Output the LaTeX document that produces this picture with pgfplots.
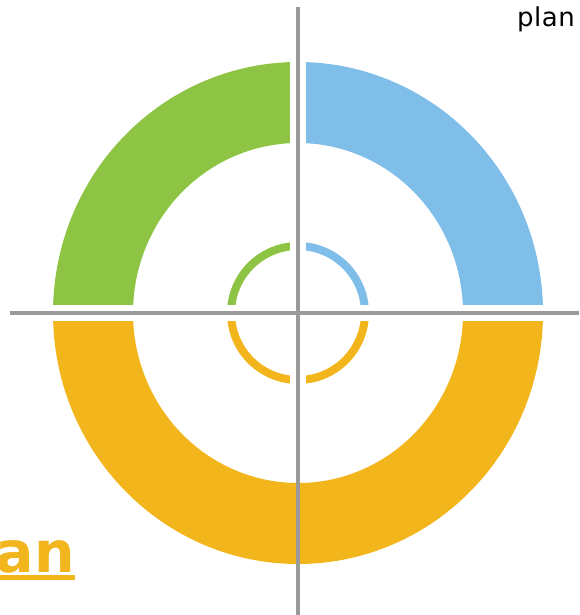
\documentclass[border=0pt]{standalone}
\usepackage{pgfplots}
\pgfplotsset{compat=1.18}
\usepackage{pgfplotstable}
\usepackage{fontspec}
\setmainfont{DejaVu Sans}
\definecolor{cgreen}{HTML}{8DC443}
\definecolor{cblue}{HTML}{7FBEE9}
\definecolor{corange}{HTML}{F2B51C}
\definecolor{cgray}{HTML}{9A9A9A}

% ring segments: share of the full circle (percent, counter-clockwise from 3 o'clock)
\pgfplotstableread{
from to rin rinv rout routv col
0  25  165 170 245 251 cblue
25 50  165 170 245 251 cgreen
50 100 165 170 245 251 corange
0  25  63  63  71  71  cblue
25 50  63  63  71  71  cgreen
50 75  63  63  71  71  corange
75 100 63  63  71  71  corange
}\rings

\begin{document}
\begin{tikzpicture}
\begin{axis}[name=ax, at={(0,0)}, anchor=south west,
  width=579pt, height=615pt, scale only axis,
  xmin=-298, xmax=281, ymin=-302, ymax=313,
  hide axis, clip=false]
\pgfplotsextra{%
  \pgfplotstablegetrowsof{\rings}%
  \pgfmathtruncatemacro\N{\pgfplotsretval-1}%
  \foreach \i in {0,...,\N}{%
    \pgfplotstablegetelem{\i}{from}\of\rings \pgfmathsetmacro\sa{3.6*\pgfplotsretval}%
    \pgfplotstablegetelem{\i}{to}\of\rings \pgfmathsetmacro\sb{3.6*\pgfplotsretval}%
    \pgfplotstablegetelem{\i}{rin}\of\rings \edef\rix{\pgfplotsretval}%
    \pgfplotstablegetelem{\i}{rinv}\of\rings \edef\riy{\pgfplotsretval}%
    \pgfplotstablegetelem{\i}{rout}\of\rings \edef\rox{\pgfplotsretval}%
    \pgfplotstablegetelem{\i}{routv}\of\rings \edef\roy{\pgfplotsretval}%
    \pgfplotstablegetelem{\i}{col}\of\rings \edef\cc{\pgfplotsretval}%
    \pgfmathsetmacro\dx{\rix-\rox}%
    \pgfmathsetmacro\dy{\riy-\roy}%
    \fill[\cc] (axis cs:0,0) ++(\sa:\rox pt and \roy pt)
      arc[start angle=\sa, end angle=\sb, x radius=\rox pt, y radius=\roy pt]
      -- ++(\sb:\dx pt and \dy pt)
      arc[start angle=\sb, end angle=\sa, x radius=\rix pt, y radius=\riy pt]
      -- cycle;
  }%
  \foreach \i in {0,...,\N}{%
    \pgfplotstablegetelem{\i}{from}\of\rings \pgfmathsetmacro\sa{3.6*\pgfplotsretval}%
    \pgfplotstablegetelem{\i}{rout}\of\rings \pgfmathsetmacro\ex{\pgfplotsretval+8}%
    \pgfplotstablegetelem{\i}{routv}\of\rings \pgfmathsetmacro\ey{\pgfplotsretval+8}%
    \draw[white, line width=16pt] (axis cs:0,0) -- ++(\sa:\ex pt and \ey pt);
  }%
}
\addplot[cgray, line width=4pt, forget plot] coordinates {(-288,0) (281,0)};
\addplot[cgray, line width=4pt, forget plot] coordinates {(0,-302) (0,306)};
\node[anchor=base east, inner sep=0pt, font=\fontsize{26}{30}\selectfont\addfontfeature{LetterSpace=2}] at (axis cs:277,286) {plan};
\node[name=pl, anchor=base east, inner sep=0pt, text=corange, font=\fontsize{57}{62}\selectfont\bfseries] at (axis cs:-223,-259) {Plan};
\draw[corange, line width=5pt] ([yshift=-5.5pt]pl.base west) -- ([yshift=-5.5pt]pl.base east);
\end{axis}
\pgfresetboundingbox
\path[use as bounding box] (ax.south west) rectangle (ax.north east);
\end{tikzpicture}
\end{document}
